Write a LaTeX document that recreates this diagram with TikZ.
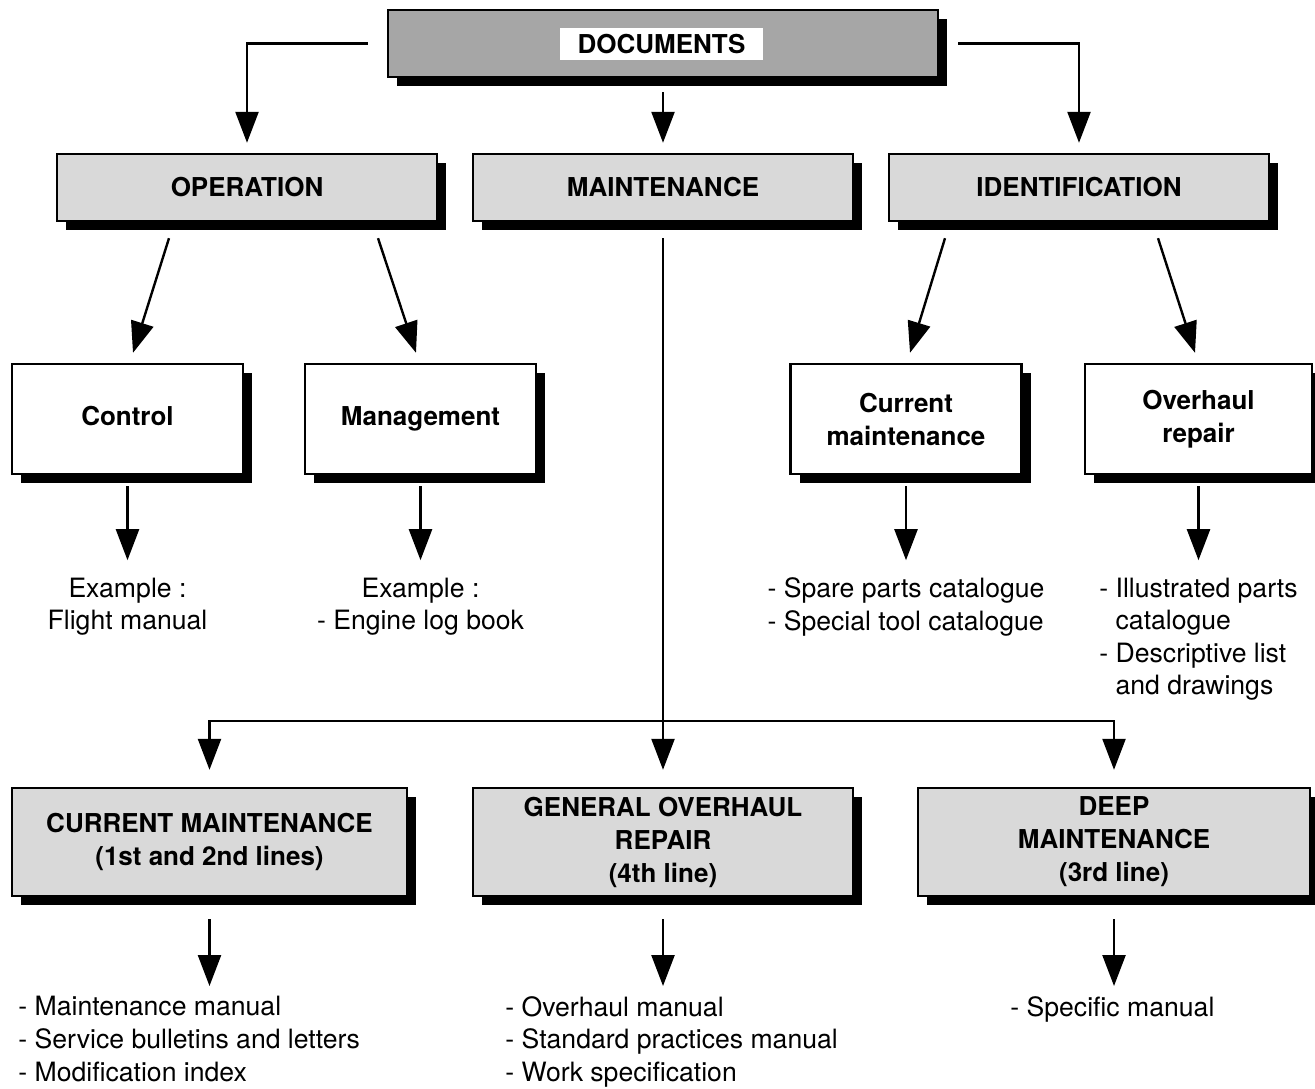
\documentclass[tikz,border=0pt]{standalone}
\usepackage{fontspec}
\setmainfont{TeX Gyre Heros}
\usetikzlibrary{positioning,arrows.meta,shadows}
\definecolor{topgrey}{HTML}{A6A6A6}
\definecolor{boxgrey}{HTML}{D9D9D9}

\begin{document}
\begin{tikzpicture}[x=0.5pt,y=-0.5pt,
  every node/.style={font=\fontsize{13.3}{16.3}\selectfont},
  box/.style={draw,line width=1.2pt,align=center,inner sep=2pt,
    font=\fontsize{13}{16.5}\selectfont\bfseries,
    drop shadow={shadow xshift=4.5pt,shadow yshift=-4.5pt,fill=black,opacity=1}},
  topbox/.style={box,fill=topgrey,minimum width=275pt,minimum height=33.5pt},
  grpbox/.style={box,fill=boxgrey,minimum width=190pt,minimum height=33.5pt},
  leafbox/.style={box,fill=white,minimum width=115.5pt,minimum height=55pt},
  linebox/.style={box,fill=boxgrey,minimum height=54pt},
  lst/.style={align=left,inner sep=0pt},
  arr/.style={line width=1.2pt,-{Triangle[length=15.5pt,width=11.5pt]}}]

\useasboundingbox (0,0) rectangle (1315,1088);

\node[topbox] (docs) at (663,43.5) {};
\node[fill=white,inner sep=0pt,minimum width=101.5pt,minimum height=16pt,
  font=\fontsize{13}{16}\selectfont\bfseries] (docslbl) at (661.5,44) {DOCUMENTS};

\node[grpbox] (op) at (247,187.5) {OPERATION};
\node[grpbox] (mt) at (663,187.5) {MAINTENANCE};
\node[grpbox] (id) at (1079,187.5) {IDENTIFICATION};

\node[leafbox] (ctl) at (127.5,419) {Control\strut};
\node[leafbox] (mgt) at (420.5,419) {Management\strut};
\node[leafbox] (cur) at (906,419) {Current\\maintenance};
\node[leafbox,minimum width=113.5pt] (ovh) at (1198.5,419) {Overhaul\\repair};

\node[lst,align=center,below=51pt of ctl] (ctldocs) {Example :\\Flight manual};
\node[lst,align=center,below=51pt of mgt] (mgtdocs) {Example :\\- Engine log book};
\node[lst,below=51pt of cur] (curdocs) {- Spare parts catalogue\\- Special tool catalogue};
\node[lst,below=51pt of ovh] (ovhdocs) {- Illustrated parts\\\phantom{- }catalogue\\- Descriptive list\\\phantom{- }and drawings};

% maintenance lines
\node[linebox,minimum width=197.5pt] (lin12) at (209.5,842) {CURRENT MAINTENANCE\\(1st and 2nd lines)};
\node[linebox,minimum width=190pt] (lin4) at (663,842) {GENERAL OVERHAUL\\REPAIR\\(4th line)};
\node[linebox,minimum width=196pt] (lin3) at (1114,842) {DEEP\\MAINTENANCE\\(3rd line)};

\node[lst,anchor=north west] (lin12docs) at (18,996) {- Maintenance manual\\- Service bulletins and letters\\- Modification index};
\node[lst,anchor=north west] (lin4docs) at (505,996) {- Overhaul manual\\- Standard practices manual\\- Work specification};
\node[lst,anchor=north west] (lin3docs) at (1010,996) {- Specific manual};

\draw[arr] ([xshift=-9.5pt]docs.west) -| ([yshift=5pt]op.north);
\draw[arr] ([yshift=-7pt]docs.south) -- ([yshift=5pt]mt.north);
\draw[arr] ([xshift=9.5pt]docs.east) -| ([yshift=5pt]id.north);

\draw[arr] ([xshift=-39pt,yshift=-8pt]op.south) -- ([xshift=2.75pt,yshift=5pt]ctl.north);
\draw[arr] ([xshift=65.5pt,yshift=-8pt]op.south) -- ([xshift=-2.25pt,yshift=5pt]mgt.north);
\draw[arr] ([xshift=-67pt,yshift=-8pt]id.south) -- ([xshift=2pt,yshift=5pt]cur.north);
\draw[arr] ([xshift=39.5pt,yshift=-8pt]id.south) -- ([xshift=-1.75pt,yshift=5pt]ovh.north);

\draw[arr,shorten >=8.5pt] ([yshift=-5.5pt]ctl.south) -- (ctl.south |- ctldocs.north);
\draw[arr,shorten >=8.5pt] ([yshift=-5.5pt]mgt.south) -- (mgt.south |- mgtdocs.north);
\draw[arr,shorten >=8.5pt] ([yshift=-5.5pt]cur.south) -- (cur.south |- curdocs.north);
\draw[arr,shorten >=8.5pt] ([yshift=-5.5pt]ovh.south) -- (ovh.south |- ovhdocs.north);

\coordinate (bus) at (663,721);
\draw[arr] ([yshift=-8pt]mt.south) -- ([yshift=8.5pt]lin4.north);
\draw[arr] (bus) -| ([yshift=8.5pt]lin12.north);
\draw[arr] (bus) -| ([yshift=8.5pt]lin3.north);

\draw[arr,shorten >=5pt] ([yshift=-11pt]lin12.south) -- (lin12.south |- lin12docs.north);
\draw[arr,shorten >=5pt] ([yshift=-11pt]lin4.south) -- (lin4.south |- lin4docs.north);
\draw[arr,shorten >=5pt] ([yshift=-11pt]lin3.south) -- (lin3.south |- lin3docs.north);
\end{tikzpicture}
\end{document}
